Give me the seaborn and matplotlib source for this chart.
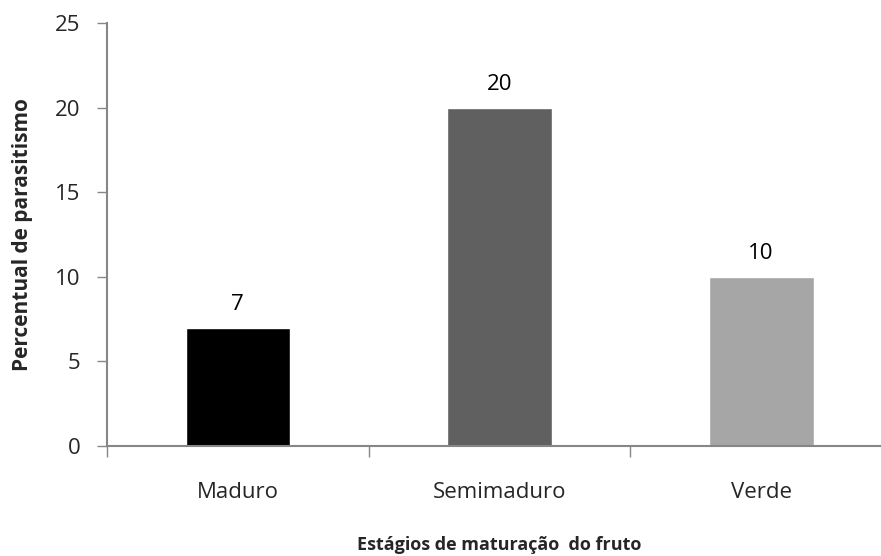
import matplotlib
matplotlib.use("Agg")
import matplotlib.pyplot as plt
import seaborn as sns
import pandas as pd

categories = ["Maduro", "Semimaduro", "Verde"]
values = [7, 20, 10]
bar_colors = ["#000000", "#606060", "#a6a6a6"]
y_ticks = [0, 5, 10, 15, 20, 25]

sns.set_style("white")
plt.rcParams["font.family"] = ["Open Sans", "DejaVu Sans"]

df = pd.DataFrame({"estagio": categories, "percentual": values})

fig = plt.figure(figsize=(8.81, 5.56), dpi=100)
ax = fig.add_axes([107 / 881, 1 - 446 / 556, (892 - 107) / 881, (446 - 23) / 556])

sns.barplot(data=df, x="estagio", y="percentual", hue="estagio",
            palette=bar_colors, width=0.4, legend=False, ax=ax, saturation=1)

for i, v in enumerate(values):
    ax.annotate(f"{v}", (i, v), xytext=(0, 9), textcoords="offset points",
                ha="center", va="bottom", fontsize=16, color="#000000")

ax.set_ylim(0, 25)
ax.set_yticks(y_ticks)
ax.set_xlim(-0.5, 2.5)
ax.set_xticks([0, 1, 2])
ax.set_xticklabels(categories, fontsize=16)
ax.tick_params(axis="y", labelsize=16, length=7, width=1, color="#868686",
               direction="out", left=True, pad=12)
ax.tick_params(axis="x", length=0, pad=26)
# category boundary ticks below the axis
ax.set_xticks([-0.5, 0.5, 1.5, 2.5], minor=True)
ax.tick_params(axis="x", which="minor", length=8, width=1, color="#868686",
               direction="out", bottom=True)

for side in ["top", "right"]:
    ax.spines[side].set_visible(False)
for side in ["left", "bottom"]:
    ax.spines[side].set_color("#868686")
    ax.spines[side].set_linewidth(1.5)

ax.set_xlabel("Estágios de maturação  do fruto", fontsize=13, fontweight="bold",
              labelpad=24)
ax.set_ylabel("Percentual de parasitismo", fontsize=15, fontweight="bold",
              labelpad=16)

fig.savefig("out.png", dpi=100)
